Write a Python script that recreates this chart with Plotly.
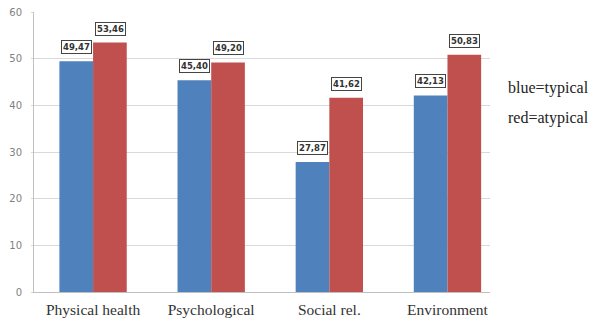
import plotly.graph_objects as go

categories = ["Physical health", "Psychological", "Social rel.", "Environment"]
typical = [49.47, 45.40, 27.87, 42.13]
atypical = [53.46, 49.20, 41.62, 50.83]
y_ticks = [0, 10, 20, 30, 40, 50, 60]

BLUE = "#4F81BD"
RED = "#C0504D"

fig = go.Figure()
fig.add_trace(go.Bar(x=categories, y=typical, name="typical",
                     marker=dict(color=BLUE, line=dict(width=0))))
fig.add_trace(go.Bar(x=categories, y=atypical, name="atypical",
                     marker=dict(color=RED, line=dict(width=0))))


def fmt(v):
    return f"{v:.2f}".replace(".", ",")


# boxed value labels above each bar
annotations = []
for series, shift in ((typical, -17), (atypical, 17)):
    for cat, v in zip(categories, series):
        annotations.append(dict(
            x=cat, y=v, xref="x", yref="y", xshift=shift, yshift=14,
            text=f"<b>{fmt(v)}</b>", showarrow=False,
            font=dict(family="DejaVu Sans", size=8.5, color="#333333"),
            bordercolor="#444444", borderwidth=1, borderpad=1,
            bgcolor="white",
        ))

# key text on the right
for txt, yy in (("blue=typical", 0.729), ("red=atypical", 0.621)):
    annotations.append(dict(
        x=1.035, y=yy, xref="paper", yref="paper", xanchor="left",
        yanchor="middle", text=txt, showarrow=False,
        font=dict(family="Liberation Serif", size=16, color="#222222"),
    ))

fig.update_layout(
    width=593, height=320,
    margin=dict(l=34, r=103, t=12, b=28),
    paper_bgcolor="white", plot_bgcolor="white",
    barmode="group", bargap=0.43, bargroupgap=0,
    showlegend=False,
    annotations=annotations,
    xaxis=dict(
        range=[-0.5, 3.36], automargin=False,
        showgrid=False, showline=True, linecolor="#BFBFBF", linewidth=1,
        ticks="", ticklabelstandoff=3,
        tickfont=dict(family="Liberation Serif", size=15.5, color="#333333"),
    ),
    yaxis=dict(
        range=[0, 60], tickvals=y_ticks, automargin=False,
        showgrid=True, gridcolor="#D9D9D9", gridwidth=1,
        showline=True, linecolor="#BFBFBF", linewidth=1,
        ticks="outside", ticklen=2, tickcolor="#D9D9D9",
        ticklabelstandoff=7,
        tickfont=dict(family="DejaVu Sans", size=10, color="#7F7F7F"),
        zeroline=False,
    ),
)

fig.write_html("out.html")
